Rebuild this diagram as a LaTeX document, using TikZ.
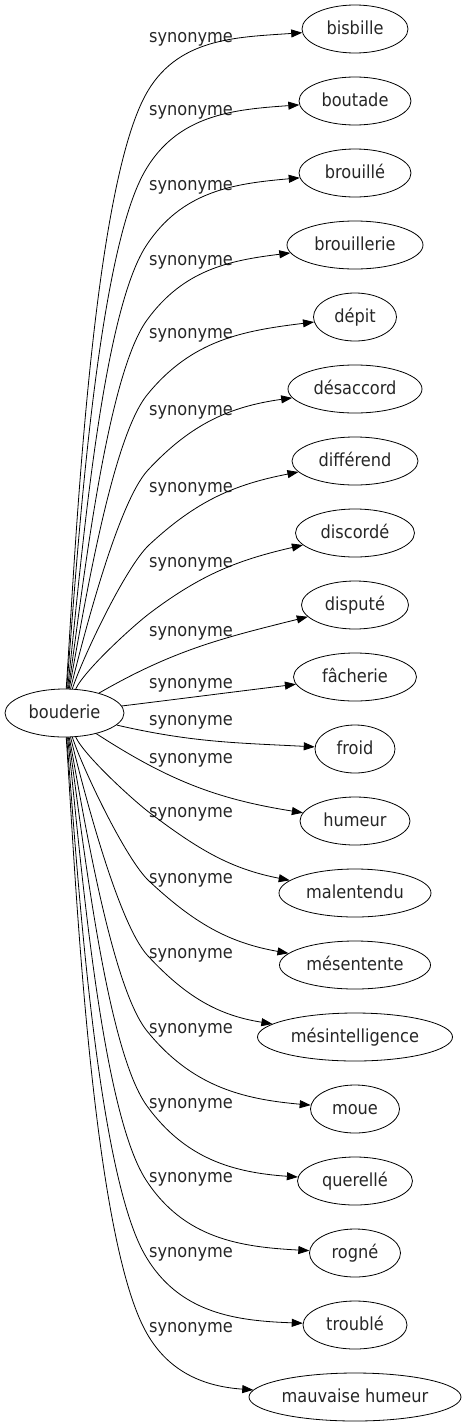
\documentclass[tikz,border=0pt]{standalone}
\usepackage{fontspec}
\setmainfont{DejaVu Sans Condensed}
\usetikzlibrary{shapes.geometric,arrows.meta}
\begin{document}
\begin{tikzpicture}[x=1pt,y=1pt,
  every node/.style={font=\fontsize{18}{20}\selectfont, text=black!85},
  nd/.style={draw, ellipse, line width=0.8pt, minimum height=48pt, inner sep=0pt, text height=13pt, text depth=3pt},
  lbl/.style={anchor=base, inner sep=0pt},
  edge/.style={line width=0.8pt, -{Triangle[length=11pt,width=8pt]}}]
\useasboundingbox (0,0) rectangle (467,-1427);
% source
\node[nd, minimum width=119pt] (b) at (64.5,-713) {bouderie};
% targets
\node[nd, minimum width=106pt] (bisbille) at (355,-29) {bisbille};
\node[nd, minimum width=112pt] (boutade) at (355,-101) {boutade};
\node[nd, minimum width=112pt] (brouille) at (355,-173) {brouillé};
\node[nd, minimum width=136pt] (brouillerie) at (355,-245) {brouillerie};
\node[nd, minimum width=83pt] (depit) at (355,-317) {dépit};
\node[nd, minimum width=134pt] (desaccord) at (355,-389) {désaccord};
\node[nd, minimum width=126pt] (differend) at (355,-461) {différend};
\node[nd, minimum width=119pt] (discorde) at (355,-533) {discordé};
\node[nd, minimum width=107pt] (dispute) at (355,-605) {disputé};
\node[nd, minimum width=123pt] (facherie) at (355,-677) {fâcherie};
\node[nd, minimum width=80pt] (froid) at (355,-749) {froid};
\node[nd, minimum width=110pt] (humeur) at (355,-821) {humeur};
\node[nd, minimum width=152pt] (malentendu) at (355,-893) {malentendu};
\node[nd, minimum width=151pt] (mesentente) at (355,-965) {mésentente};
\node[nd, minimum width=195pt] (mesintelligence) at (355,-1037) {mésintelligence};
\node[nd, minimum width=89pt] (moue) at (355,-1109) {moue};
\node[nd, minimum width=115pt] (querelle) at (355,-1181) {querellé};
\node[nd, minimum width=91pt] (rogne) at (355,-1253) {rogné};
\node[nd, minimum width=104pt] (trouble) at (355,-1325) {troublé};
\node[nd, minimum width=212pt] (mauvaise) at (355,-1397) {mauvaise humeur};
% labels
\foreach \i/\y in {0/37,1/110,2/185,3/260,4/333,5/410,6/487,7/562,8/631,9/683,
                   10/720,11/758,12/812,13/878,14/953,15/1028,16/1103,17/1177,18/1252,19/1327}
  \node[lbl] (l\i) at (191,-\y-5) {synonyme};
% bend points
\coordinate (k0) at (145,-96);
\coordinate (k1) at (145,-171);
\coordinate (k2) at (146,-246);
\coordinate (k3) at (147,-320);
\coordinate (k4) at (147,-395);
\coordinate (k5) at (148,-470);
\coordinate (k6) at (149,-545);
\coordinate (k7) at (150,-613);
\coordinate (k12) at (150,-813);
\coordinate (k13) at (149,-881);
\coordinate (k14) at (148,-956);
\coordinate (k15) at (147,-1031);
\coordinate (k16) at (147,-1106);
\coordinate (k17) at (146,-1180);
\coordinate (k18) at (145,-1255);
\coordinate (k19) at (145,-1330);
% upper edges
\draw[edge] (b) to[out=86,in=242,looseness=.5] (k0) to[out=62,in=184] (bisbille);
\draw[edge] (b) to[out=85,in=240,looseness=.5] (k1) to[out=60,in=184] (boutade);
\draw[edge] (b) to[out=83,in=237,looseness=.5] (k2) to[out=57,in=185] (brouille);
\draw[edge] (b) to[out=81,in=234,looseness=.5] (k3) to[out=54,in=187] (brouillerie);
\draw[edge] (b) to[out=79,in=231,looseness=.5] (k4) to[out=51,in=187] (depit);
\draw[edge] (b) to[out=76,in=227,looseness=.5] (k5) to[out=47,in=188] (desaccord);
\draw[edge] (b) to[out=72,in=223,looseness=.5] (k6) to[out=43,in=191] (differend);
\draw[edge] (b) to[out=65,in=217,looseness=.5] (k7) to[out=37,in=193] (discorde);
\draw[edge] (b) to[out=30,in=194] (dispute);
\draw[edge] (b) to[out=7,in=187] (facherie);
% lower edges
\draw[edge] (b) to[out=-13,in=177] (froid);
\draw[edge] (b) to[out=-33,in=171] (humeur);
\draw[edge] (b) to[out=-65,in=143,looseness=.5] (k12) to[out=-37,in=169] (malentendu);
\draw[edge] (b) to[out=-72,in=137,looseness=.5] (k13) to[out=-43,in=170] (mesentente);
\draw[edge] (b) to[out=-76,in=133,looseness=.5] (k14) to[out=-47,in=171] (mesintelligence);
\draw[edge] (b) to[out=-79,in=129,looseness=.5] (k15) to[out=-51,in=175] (moue);
\draw[edge] (b) to[out=-81,in=126,looseness=.5] (k16) to[out=-54,in=176] (querelle);
\draw[edge] (b) to[out=-83,in=123,looseness=.5] (k17) to[out=-57,in=177] (rogne);
\draw[edge] (b) to[out=-85,in=120,looseness=.5] (k18) to[out=-60,in=178] (trouble);
\draw[edge] (b) to[out=-86,in=118,looseness=.5] (k19) to[out=-62,in=176] (mauvaise);
\end{tikzpicture}
\end{document}
